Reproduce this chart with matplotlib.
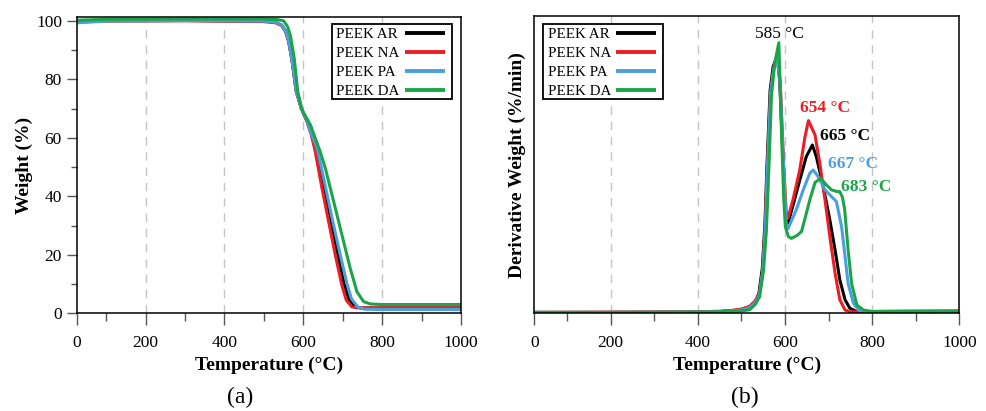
import matplotlib
matplotlib.use("Agg")
import matplotlib.pyplot as plt
from matplotlib.ticker import FixedLocator, MultipleLocator
from matplotlib.patches import Rectangle

plt.rcParams['font.family'] = ['Liberation Serif', 'DejaVu Serif']

# ---------------- data ----------------
series = ["PEEK AR", "PEEK NA", "PEEK PA", "PEEK DA"]
colors = ["#000000", "#EC1D24", "#4AA0DC", "#1BA548"]

# TGA weight (%) curves
tga_T_ar = [25, 100, 300, 500, 530, 545, 555, 563, 572, 582, 595, 610, 620, 635, 652, 669, 686, 703, 715, 730, 745, 800, 1000]
tga_W_ar = [99.6, 100.0, 100.1, 99.9, 99.5, 98.5, 96.5, 93.0, 86.0, 76.0, 70.0, 65.5, 61.5, 56.0, 44.0, 32.5, 21.0, 10.5, 5.0, 2.4, 1.8, 1.8, 1.8]
tga_T_na = [25, 100, 300, 500, 530, 545, 555, 563, 572, 582, 595, 610, 620, 630, 647, 664, 681, 698, 709, 723, 736, 800, 1000]
tga_W_na = [99.6, 99.9, 100.0, 99.7, 99.3, 98.3, 96.3, 92.8, 85.8, 75.8, 70.0, 65.3, 61.2, 55.5, 43.0, 31.5, 20.0, 9.5, 4.5, 2.2, 1.9, 1.9, 1.9]
tga_T_pa = [25, 100, 300, 500, 530, 545, 555, 563, 572, 582, 595, 610, 620, 635, 655, 673, 692, 710, 722, 738, 755, 800, 1000]
tga_W_pa = [99.3, 99.9, 100.1, 99.9, 99.5, 98.5, 96.5, 93.0, 86.0, 76.0, 70.0, 65.5, 61.5, 56.5, 44.0, 32.5, 21.0, 10.5, 5.0, 2.2, 1.4, 1.3, 1.3]
tga_T_da = [25, 100, 300, 500, 535, 550, 560, 567, 577, 586, 597, 618, 643, 656, 677, 698, 719, 736, 753, 770, 800, 1000]
tga_W_da = [100.2, 100.5, 100.6, 100.6, 100.4, 100.0, 98.0, 95.1, 87.1, 75.7, 69.5, 64.4, 55.2, 49.5, 38.2, 26.8, 15.4, 7.4, 4.0, 3.2, 3.0, 3.0]

# DTG (derivative weight, arbitrary units) curves
dtg_T_ar = [25, 200, 400, 450, 480, 500, 519, 532, 540, 548, 554, 559, 566, 573, 582, 588, 596, 602, 607, 618, 630, 649, 663, 672, 688, 703, 715, 726, 738, 749, 764, 1000]
dtg_V_ar = [0.003, 0.003, 0.004, 0.006, 0.009, 0.013, 0.022, 0.04, 0.065, 0.15, 0.30, 0.504, 0.75, 0.83, 0.865, 0.785, 0.504, 0.314, 0.303, 0.36, 0.426, 0.527, 0.566, 0.527, 0.426, 0.314, 0.213, 0.112, 0.045, 0.017, 0.006, 0.007]
dtg_T_na = [25, 200, 400, 450, 480, 500, 519, 532, 541, 549, 555, 560, 567, 575, 584, 590, 597, 603, 607, 619, 634, 646, 654, 669, 680, 692, 703, 715, 726, 738, 750, 1000]
dtg_V_na = [0.003, 0.004, 0.005, 0.007, 0.010, 0.014, 0.023, 0.042, 0.066, 0.14, 0.30, 0.50, 0.74, 0.83, 0.875, 0.75, 0.50, 0.34, 0.32, 0.385, 0.482, 0.594, 0.648, 0.60, 0.504, 0.381, 0.258, 0.135, 0.045, 0.011, 0.005, 0.006]
dtg_T_pa = [25, 200, 400, 450, 480, 500, 519, 532, 541, 549, 555, 560, 567, 574, 582, 589, 597, 603, 607, 626, 642, 657, 665, 676, 692, 707, 718, 730, 738, 745, 757, 769, 780, 1000]
dtg_V_pa = [0.003, 0.003, 0.004, 0.005, 0.008, 0.011, 0.019, 0.036, 0.06, 0.14, 0.29, 0.49, 0.74, 0.82, 0.86, 0.77, 0.49, 0.30, 0.285, 0.348, 0.415, 0.471, 0.482, 0.46, 0.415, 0.392, 0.376, 0.291, 0.19, 0.10, 0.034, 0.011, 0.006, 0.007]
dtg_T_da = [25, 200, 400, 450, 480, 500, 519, 532, 542, 551, 557.5, 563.5, 569, 576.5, 586, 592, 597, 601, 608, 615, 628, 638, 648, 657, 669, 682, 695, 707, 718, 726, 732, 737, 745, 753, 765, 780, 800, 1000]
dtg_V_da = [0.003, 0.003, 0.004, 0.005, 0.007, 0.008, 0.012, 0.03, 0.056, 0.146, 0.28, 0.50, 0.73, 0.84, 0.91, 0.616, 0.392, 0.291, 0.258, 0.252, 0.262, 0.275, 0.33, 0.381, 0.44, 0.454, 0.432, 0.415, 0.41, 0.409, 0.39, 0.35, 0.213, 0.10, 0.028, 0.011, 0.006, 0.008]

peak_labels = ["585 °C", "654 °C", "665 °C", "667 °C", "683 °C"]
peak_label_colors = ["#000000", "#EC1D24", "#000000", "#4AA0DC", "#1BA548"]
peak_label_weights = ["normal", "bold", "bold", "bold", "bold"]
peak_label_T = [588, 691, 737, 756, 787]
peak_label_V = [0.94, 0.69, 0.596, 0.502, 0.424]

x_ticks = [25, 200, 400, 600, 800, 1000]
x_tick_labels = ["0", "200", "400", "600", "800", "1000"]

# ---------------- figure ----------------
W_PX, H_PX = 986, 411
fig = plt.figure(figsize=(W_PX / 100, H_PX / 100), dpi=100)
axA = fig.add_axes([0.0778, 0.2377, 0.3897, 0.7217])
axB = fig.add_axes([0.5419, 0.2377, 0.4310, 0.7235])

tga = [(tga_T_ar, tga_W_ar), (tga_T_na, tga_W_na), (tga_T_pa, tga_W_pa), (tga_T_da, tga_W_da)]
dtg = [(dtg_T_ar, dtg_V_ar), (dtg_T_na, dtg_V_na), (dtg_T_pa, dtg_V_pa), (dtg_T_da, dtg_V_da)]

TICK_C = "#555555"
for ax in (axA, axB):
    for g in (200, 400, 600, 800):
        ax.axvline(g, color="#c4c4c4", lw=1.0, ls=(0, (6, 5)), zorder=0)
    ax.set_xlim(25, 1000)
    ax.xaxis.set_major_locator(FixedLocator(x_ticks))
    ax.set_xticklabels(x_tick_labels)
    ax.xaxis.set_minor_locator(FixedLocator([100, 300, 500, 700, 900]))
    ax.tick_params(axis="both", which="both", direction="out", width=1.0, color=TICK_C,
                   labelsize=12.5, top=False, right=False)
    ax.tick_params(axis="x", which="major", length=8.5, pad=7)
    ax.tick_params(axis="x", which="minor", length=5.8)
    ax.tick_params(axis="y", which="major", length=7.2, pad=3.4)
    ax.tick_params(axis="y", which="minor", length=4.3)
    for s in ax.spines.values():
        s.set_linewidth(1.1)
    ax.set_xlabel("Temperature (°C)", fontsize=14, fontweight="bold", labelpad=4.5)

for (T, W), name, c in zip(tga, series, colors):
    axA.plot(T, W, color=c, lw=2.2, label=name)
axA.set_ylim(0, 101.4)
axA.yaxis.set_major_locator(MultipleLocator(20))
axA.yaxis.set_minor_locator(MultipleLocator(10))
axA.set_ylabel("Weight (%)", fontsize=14, fontweight="bold", labelpad=2)

for (T, V), name, c in zip(dtg, series, colors):
    axB.plot(T, V, color=c, lw=2.2, label=name)
axB.set_ylim(0, 1.0)
axB.set_yticks([])
axB.set_ylabel("Derivative Weight (%/min)", fontsize=14, fontweight="bold", labelpad=6)

for txt, c, w, t, v in zip(peak_labels, peak_label_colors, peak_label_weights, peak_label_T, peak_label_V):
    axB.text(t, v, txt, color=c, fontweight=w, fontsize=12.5, ha="center", va="center")


def draw_legend(ax, box_x0_px, box_y0_px):
    """Legend with left-aligned labels and line samples on the right.
    box_x0_px / box_y0_px: offset (pixels) of the box's top-left corner
    from the axes' top-left corner."""
    fig.canvas.draw()
    bb = ax.get_window_extent()
    aw, ah = bb.width, bb.height
    box_w, box_h = 120, 75
    text_dx, line_dx0, line_dx1 = 4.5, 73, 113
    row_dy = [9.3, 28.3, 47.0, 66.0]
    fx = lambda px: (box_x0_px + px) / aw
    fy = lambda py: 1 - (box_y0_px + py) / ah
    ax.add_patch(Rectangle((fx(0), fy(box_h)), box_w / aw, box_h / ah,
                           transform=ax.transAxes, fill=True, facecolor="white",
                           edgecolor="black", lw=1.3, zorder=5, clip_on=False))
    for name, c, dy in zip(series, colors, row_dy):
        ax.text(fx(text_dx), fy(dy + 5.2), name, transform=ax.transAxes, fontsize=10.8,
                ha="left", va="baseline", zorder=6)
        ax.plot([fx(line_dx0), fx(line_dx1)], [fy(dy), fy(dy)], transform=ax.transAxes,
                color=c, lw=2.8, zorder=6, clip_on=False, solid_capstyle="butt")


bbA = axA.get_window_extent()
draw_legend(axA, bbA.width - 129.3, 7.3)
draw_legend(axB, 9.0, 8.0)

fig.text(0.2435, 0.034, "(a)", ha="center", va="center", fontsize=17)
fig.text(0.7556, 0.034, "(b)", ha="center", va="center", fontsize=17)

fig.savefig("out.png", dpi=100)
